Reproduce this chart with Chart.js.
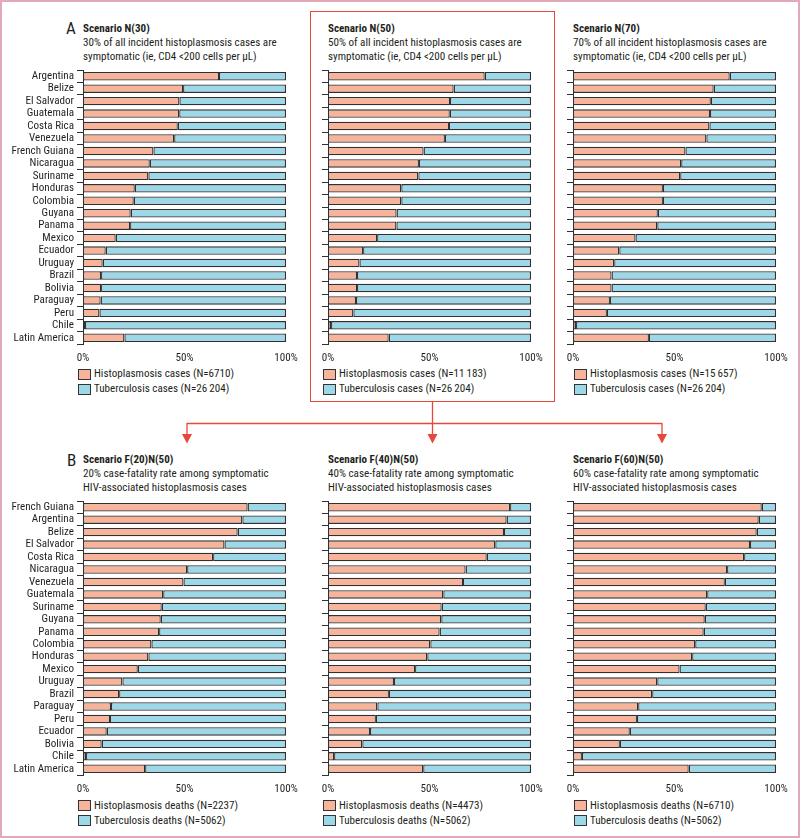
<!DOCTYPE html>
<html>
<head>
<meta charset="utf-8">
<script src="https://cdn.jsdelivr.net/npm/chart.js@4"></script>
<style>
  html,body{margin:0;padding:0;background:#fff;}
  body{width:800px;height:838px;position:relative;overflow:hidden;color:#231f20;}
  #frame{position:absolute;left:0;top:0;width:800px;height:838px;box-sizing:border-box;border:2px solid #e2a9bb;}
  #redbox{position:absolute;left:310px;top:11px;width:245px;height:391px;box-sizing:border-box;border:1.5px solid #e8473c;}
  .t{position:absolute;white-space:nowrap;line-height:14px;height:14px;}
  .b{font-weight:bold;}
  canvas{position:absolute;}
  .box{position:absolute;width:11px;height:9px;border:1px solid #333;}
  svg{position:absolute;left:0;top:0;}
</style>
</head>
<body>
<div id="frame"></div>
<div id="redbox"></div>
<svg width="800" height="838">
  <g stroke="#e8473c" stroke-width="1.3" fill="none">
    <line x1="432.5" y1="402" x2="432.5" y2="436"/>
    <line x1="187" y1="423.5" x2="662" y2="423.5"/>
    <line x1="187" y1="423" x2="187" y2="436"/>
    <line x1="662" y1="423" x2="662" y2="436"/>
  </g>
  <g fill="#e8473c">
    <polygon points="182,434 192,434 187,443.5"/>
    <polygon points="427.5,434 437.5,434 432.5,443.5"/>
    <polygon points="657,434 667,434 662,443.5"/>
  </g>
</svg>
<div id="texts"></div>
<canvas id="c1" width="302" height="296" style="left:0px;top:68px"></canvas>
<canvas id="c2" width="239" height="296" style="left:308px;top:68px"></canvas>
<canvas id="c3" width="239" height="296" style="left:553px;top:68px"></canvas>
<canvas id="c4" width="302" height="296" style="left:0px;top:499px"></canvas>
<canvas id="c5" width="239" height="296" style="left:308px;top:499px"></canvas>
<canvas id="c6" width="239" height="296" style="left:553px;top:499px"></canvas>
<script>
// ---------------- data ----------------
const countriesA = ['Argentina','Belize','El Salvador','Guatemala','Costa Rica','Venezuela','French Guiana','Nicaragua','Suriname','Honduras','Colombia','Guyana','Panama','Mexico','Ecuador','Uruguay','Brazil','Bolivia','Paraguay','Peru','Chile','Latin America'];
const histoN30 = [67.0,49.3,47.5,47.4,46.7,44.9,34.7,32.9,32.2,25.5,25.0,23.5,23.2,16.1,11.2,9.7,8.9,8.9,8.7,8.1,1.0,20.4];
const tbN30    = [33.0,50.7,52.5,52.6,53.3,55.1,65.3,67.1,67.8,74.5,75.0,76.5,76.8,83.9,88.8,90.3,91.1,91.1,91.3,91.9,99.0,79.6];
const histoN50 = [77.2,61.9,60.1,60.0,59.6,57.6,47.1,44.8,44.5,36.1,36.1,33.8,33.7,24.2,17.3,15.5,14.3,14.3,13.8,12.5,1.5,29.9];
const tbN50    = [22.8,38.1,39.9,40.0,40.4,42.4,52.9,55.2,55.5,63.9,63.9,66.2,66.3,75.8,82.7,84.5,85.7,85.7,86.2,87.5,98.5,70.1];
const histoN70 = [77.2,69.3,67.9,67.5,67.2,65.7,55.4,53.3,52.8,44.3,44.3,41.8,41.5,30.8,22.8,20.3,19.0,19.0,18.2,16.7,1.5,37.4];
const tbN70    = [22.8,30.7,32.1,32.5,32.8,34.3,44.6,46.7,47.2,55.7,55.7,58.2,58.5,69.2,77.2,79.7,81.0,81.0,81.8,83.3,98.5,62.6];

const countriesB = ['French Guiana','Argentina','Belize','El Salvador','Costa Rica','Nicaragua','Venezuela','Guatemala','Suriname','Guyana','Panama','Colombia','Honduras','Mexico','Uruguay','Brazil','Paraguay','Peru','Ecuador','Bolivia','Chile','Latin America'];
const histoF20 = [81.1,78.5,76.2,69.7,64.1,51.3,49.5,39.5,38.8,38.3,37.5,33.7,32.2,27.0,19.4,17.8,13.8,13.3,11.7,9.2,1.5,30.6];
const tbF20    = [18.9,21.5,23.8,30.3,35.9,48.7,50.5,60.5,61.2,61.7,62.5,66.3,67.8,73.0,80.6,82.2,86.2,86.7,88.3,90.8,98.5,69.4];
const histoF40 = [89.7,88.0,86.7,82.4,78.2,67.8,66.5,56.8,56.0,55.8,55.0,50.4,48.9,42.9,32.5,30.0,24.3,23.6,20.7,16.9,3.0,46.9];
const tbF40    = [10.3,12.0,13.3,17.6,21.8,32.2,33.5,43.2,44.0,44.2,45.0,49.6,51.1,57.1,67.5,70.0,75.7,76.4,79.3,83.1,97.0,53.1];
const histoF60 = [93.0,91.5,90.5,87.2,84.3,75.9,74.8,66.1,65.4,64.9,64.4,60.2,58.7,52.5,41.5,39.0,32.1,31.5,28.0,23.1,4.4,57.0];
const tbF60    = [7.0,8.5,9.5,12.8,15.7,24.1,25.2,33.9,34.6,35.1,35.6,39.8,41.3,47.5,58.5,61.0,67.9,68.5,72.0,76.9,95.6,43.0];

const xTicks = [0, 50, 100];

const titlesA = ['Scenario N(30)','Scenario N(50)','Scenario N(70)'];
const subsA = [
  ['30% of all incident histoplasmosis cases are','symptomatic (ie, CD4 <200 cells per μL)'],
  ['50% of all incident histoplasmosis cases are','symptomatic (ie, CD4 <200 cells per μL)'],
  ['70% of all incident histoplasmosis cases are','symptomatic (ie, CD4 <200 cells per μL)']
];
const legendA = [
  ['Histoplasmosis cases (N=6710)','Tuberculosis cases (N=26\u2009204)'],
  ['Histoplasmosis cases (N=11\u2009183)','Tuberculosis cases (N=26\u2009204)'],
  ['Histoplasmosis cases (N=15\u2009657)','Tuberculosis cases (N=26\u2009204)']
];
const titlesB = ['Scenario F(20)N(50)','Scenario F(40)N(50)','Scenario F(60)N(50)'];
const subsB = [
  ['20% case-fatality rate among symptomatic','HIV-associated histoplasmosis cases'],
  ['40% case-fatality rate among symptomatic','HIV-associated histoplasmosis cases'],
  ['60% case-fatality rate among symptomatic','HIV-associated histoplasmosis cases']
];
const legendB = [
  ['Histoplasmosis deaths (N=2237)','Tuberculosis deaths (N=5062)'],
  ['Histoplasmosis deaths (N=4473)','Tuberculosis deaths (N=5062)'],
  ['Histoplasmosis deaths (N=6710)','Tuberculosis deaths (N=5062)']
];

// ---------------- font pick (condensed sans, fitted to the reference text width) ----------------
const SAMPLE = '30% of all incident histoplasmosis cases are';
const TARGET_W = 194, BASE = 11.5;
const mctx = document.createElement('canvas').getContext('2d');
function mw(st, fam, size){
  mctx.font = (st !== 'normal' ? st + ' ' : '') + size + 'px "' + fam + '", monospace';
  return mctx.measureText(SAMPLE).width;
}
mctx.font = BASE + 'px monospace';
const monoW = mctx.measureText(SAMPLE).width;
let best = null;
for (const fam of ['Liberation Sans Narrow','Noto Sans','Open Sans','Roboto','Lato','Inter','Liberation Sans','DejaVu Sans Condensed','DejaVu Sans']) {
  const wn = mw('normal', fam, BASE);
  if (Math.abs(wn - monoW) < 0.5) continue;
  for (const st of ['normal','semi-condensed','condensed']) {
    const w = mw(st, fam, BASE);
    if (st !== 'normal' && Math.abs(w - wn) < 0.5) continue;
    const score = Math.abs(w - TARGET_W) + (fam.indexOf('DejaVu') === 0 ? 8 : 0);
    if (!best || score < best.score) best = { fam, st, w, score };
  }
}
if (!best) best = { fam: 'Liberation Sans', st: 'normal', w: 220 };
const FS = Math.max(10.5, Math.min(12.5, BASE * TARGET_W / best.w));
const FAMILY = '"' + best.fam + '", "Liberation Sans", sans-serif';
const STRETCH = best.st;
document.body.style.fontFamily = FAMILY;
document.body.style.fontStretch = STRETCH;

// ---------------- styles ----------------
const SALMON = '#f8b49b';
const BLUE = '#9dd8e8';
const EDGE = '#303030';
const TXT = '#231f20';

// ---------------- texts ----------------
const T = document.getElementById('texts');
function addText(s, x, cy, cls, extra){
  const d = document.createElement('div'); d.className = 't ' + (cls || ''); d.textContent = s;
  d.style.left = x + 'px'; d.style.top = (cy - 7) + 'px'; d.style.fontSize = FS + 'px';
  if (extra) Object.assign(d.style, extra);
  T.appendChild(d); return d;
}
function addBox(x, cy, color){
  const d = document.createElement('div'); d.className = 'box';
  d.style.left = x + 'px'; d.style.top = (cy - 5.5) + 'px'; d.style.background = color; T.appendChild(d);
}
const colX = [83, 328, 573];
const legX = [[78,94],[323,339],[574,590]];
addText('A', 66, 28, '', {fontSize:'17px', lineHeight:'18px', height:'18px', top:'19px'});
addText('B', 67, 460, '', {fontSize:'17px', lineHeight:'18px', height:'18px', top:'451px'});
for (let i = 0; i < 3; i++) {
  addText(titlesA[i], colX[i], 28.5, 'b');
  addText(subsA[i][0], colX[i], 42.7);
  addText(subsA[i][1], colX[i], 56.7);
  addBox(legX[i][0], 374, SALMON); addText(legendA[i][0], legX[i][1], 374);
  addBox(legX[i][0], 389, BLUE);   addText(legendA[i][1], legX[i][1], 389);
  addText(titlesB[i], colX[i], 460, 'b');
  addText(subsB[i][0], colX[i], 474);
  addText(subsB[i][1], colX[i], 488);
  addBox(legX[i][0], 805.5, SALMON); addText(legendB[i][0], legX[i][1], 805.5);
  addBox(legX[i][0], 820.5, BLUE);   addText(legendB[i][1], legX[i][1], 820.5);
}

// ---------------- charts ----------------
Chart.defaults.font.family = FAMILY;
Chart.defaults.font.size = FS;
if (STRETCH !== 'normal') Chart.defaults.font.weight = STRETCH;
Chart.defaults.color = TXT;

function makeChart(id, labels, hist, tb, showLabels, yw){
  const ds = (label, data, color) => ({
    label, data, backgroundColor: color, borderColor: EDGE, borderWidth: 1.3,
    borderSkipped: false, inflateAmount: 0, barPercentage: 0.68, categoryPercentage: 1
  });
  return new Chart(document.getElementById(id), {
    type: 'bar',
    data: { labels, datasets: [ ds('Histoplasmosis', hist, SALMON), ds('Tuberculosis', tb, BLUE) ] },
    options: {
      indexAxis: 'y', responsive: false, animation: false,
      layout: { autoPadding: false, padding: { top: 2, right: 16, left: 0, bottom: 0 } },
      plugins: { legend: { display: false }, tooltip: { enabled: false } },
      scales: {
        x: {
          stacked: true, min: 0, max: 100,
          border: { display: false },
          grid: { display: false, drawTicks: false },
          afterBuildTicks: s => { s.ticks = xTicks.map(v => ({ value: v })); },
          ticks: { callback: v => v + '%', padding: 8, maxRotation: 0, color: TXT },
          afterFit: s => { s.height = 20; s.paddingLeft = 0; s.paddingRight = 0; }
        },
        y: {
          stacked: true,
          border: { display: true, color: EDGE, width: 1 },
          grid: { display: true, drawOnChartArea: false, drawTicks: true, tickLength: 6, color: EDGE, offset: true, lineWidth: 1 },
          ticks: { display: showLabels, padding: 3, autoSkip: false, color: TXT },
          afterFit: s => { s.width = yw; s.paddingTop = 0; s.paddingBottom = 0; }
        }
      }
    }
  });
}
makeChart('c1', countriesA, histoN30, tbN30, true, 83);
makeChart('c2', countriesA, histoN50, tbN50, false, 20);
makeChart('c3', countriesA, histoN70, tbN70, false, 20);
makeChart('c4', countriesB, histoF20, tbF20, true, 83);
makeChart('c5', countriesB, histoF40, tbF40, false, 20);
makeChart('c6', countriesB, histoF60, tbF60, false, 20);
</script>
</body>
</html>
